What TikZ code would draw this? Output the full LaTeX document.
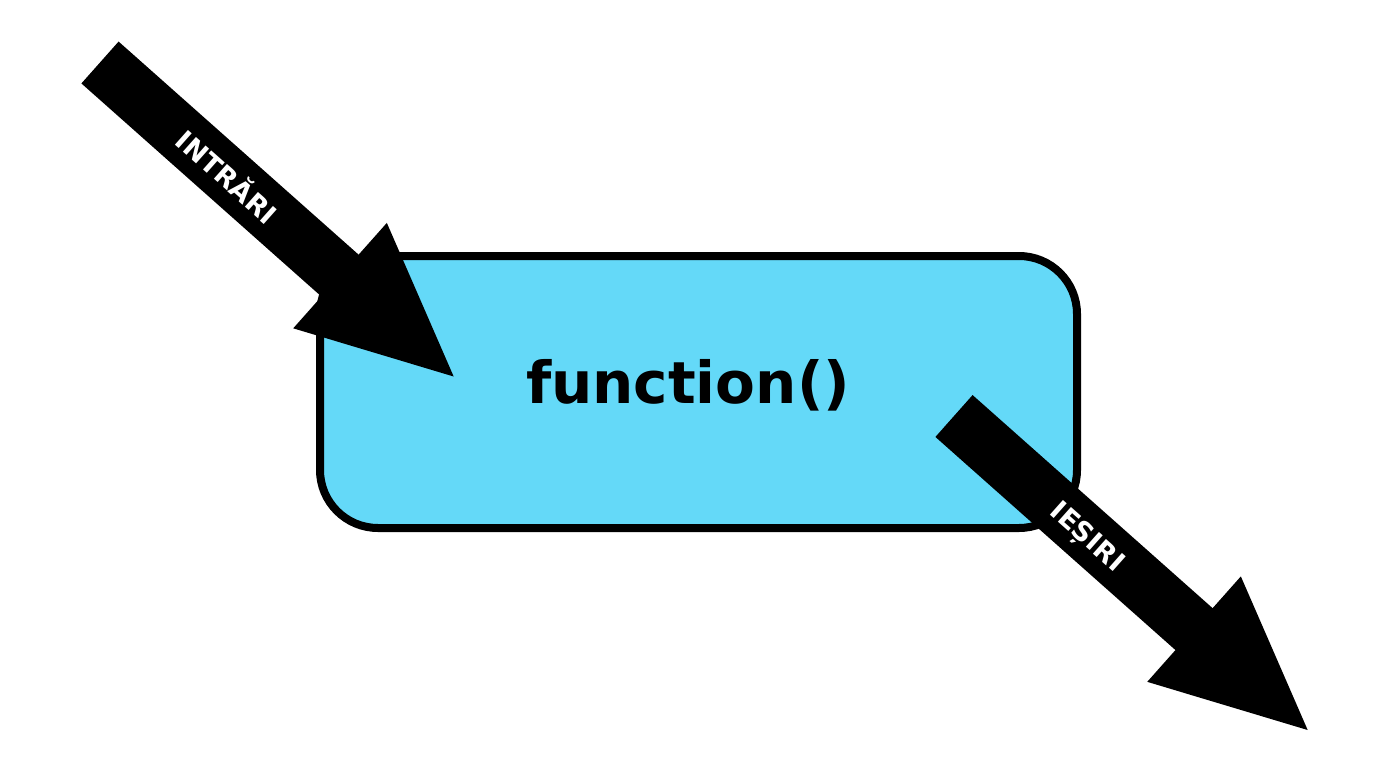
\documentclass[tikz,border=0pt]{standalone}
\usepackage{fontspec}
\setmainfont{DejaVu Sans}
\definecolor{boxblue}{RGB}{100,217,248}
\tikzset{
  fnbox/.style={draw=black, line width=8pt, fill=boxblue, rounded corners=58pt,
    minimum width=757pt, minimum height=272pt, inner sep=0pt},
  fntext/.style={font=\fontsize{58}{60}\selectfont\bfseries, text=black, inner sep=0pt},
  blockarrow/.style={fill=black, draw=none},
  arrowlabel/.style={font=\fontsize{27}{29}\selectfont\bfseries, text=white, inner sep=0pt, rotate=-41.6}
}
\begin{document}
\begin{tikzpicture}[x=1pt,y=-1pt]
\useasboundingbox[fill=white] (0,0) rectangle (1376,768);
\node[fnbox] (box) at (698.5,392) {};
\node[fntext] (fn) at (688,385) {function()};
% input arrow
\begin{scope}[shift={(100,62.5)}, rotate=-41.6]
  \coordinate (inStart) at (0,0);
  \coordinate (inTip) at (473,0);
  \fill[blockarrow] (0,-28) -- (321,-28) -- (321,-70.5) -- (inTip) -- (321,70.5) -- (321,28) -- (0,28) -- cycle;
  \node[arrowlabel] (inLabel) at (171,-1) {INTRĂRI};
\end{scope}
% output arrow
\begin{scope}[shift={(954,416)}, rotate=-41.6]
  \coordinate (outStart) at (0,0);
  \coordinate (outTip) at (473,0);
  \fill[blockarrow] (0,-28) -- (321,-28) -- (321,-70.5) -- (outTip) -- (321,70.5) -- (321,28) -- (0,28) -- cycle;
  \node[arrowlabel] (outLabel) at (180,3.5) {IEȘIRI};
\end{scope}
\end{tikzpicture}
\end{document}
